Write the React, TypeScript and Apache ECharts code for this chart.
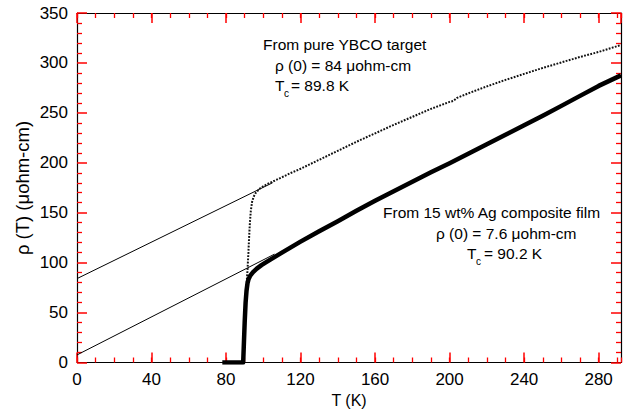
import React, { useEffect, useRef } from "react";
import * as echarts from "echarts";

// Ag composite film (thick curve)
const agT = [78, 84, 88, 89.2, 89.5, 90.0, 90.5, 91.0, 91.5, 92.0, 93.0, 94.5, 96.5, 99, 102, 106, 110, 115, 120, 130, 140, 150, 160, 170, 180, 190, 200, 210, 220, 230, 240, 250, 260, 270, 280, 292];
const agRho = [0, 0, 0, 0, 15, 40, 60, 72, 79, 83, 87, 90.5, 94, 97.5, 101, 105.5, 110, 115.5, 121, 131.5, 141.5, 152, 162, 171.5, 181, 190.5, 199.5, 209, 218.5, 228, 237.5, 247, 257, 267, 277, 287.5];

// Pure YBCO target (dotted curve)
const ybT = [89, 89.5, 90, 90.5, 91, 91.5, 92, 92.4, 92.8, 93.3, 94, 94.8, 96, 98, 100, 103, 106, 110, 115, 120, 130, 140, 150, 160, 170, 180, 190, 200, 202, 204, 210, 220, 230, 240, 250, 260, 270, 280, 292];
const ybRho = [0, 20, 45, 65, 78, 92, 110, 126, 140, 152, 161, 166, 170, 174, 176.5, 179.5, 182, 185.5, 190, 194, 203, 212, 221, 229.5, 238, 246, 254, 261, 262, 265, 269.5, 276.5, 283, 289, 295, 300.5, 306, 311, 318];

// Linear extrapolations to T = 0
const fitYbco = [[0, 84], [105, 180]];
const fitAg = [[0, 7.6], [106, 108.5]];

const xMin = 0;
const xMax = 292;
const xMajor = 40;
const xMinor = 10;
const yMin = 0;
const yMax = 350;
const yMajor = 50;

const FONT = "'Liberation Sans', Arial, Helvetica, sans-serif";
const TICK = "red";

const zip = (a: number[], b: number[]) => a.map((v, i) => [v, b[i]]);

export default function App() {
  const ref = useRef<HTMLDivElement>(null);
  useEffect(() => {
    document.body.style.margin = "0";
    if (!ref.current) return;
    const chart = echarts.init(ref.current, undefined, { renderer: "svg" });
    const txt = (text: string, x: number, y: number, size = 15.5, align = "left", rotation = 0) => ({
      type: "text",
      x,
      y,
      rotation,
      style: { text, fontSize: size, fontFamily: FONT, fill: "#000", verticalAlign: "middle", align },
    });
    chart.setOption({
      animation: false,
      grid: [
        { left: 77, right: 3, top: 13, bottom: 54.5 },
        { left: 77, right: 3, top: 13, bottom: 54.5 },
      ],
      xAxis: [
        {
          gridIndex: 0, type: "value", position: "bottom", min: xMin, max: xMax, interval: xMajor,
          axisLine: { show: true, onZero: false, lineStyle: { color: "#000", width: 1.2 } },
          axisTick: { show: true, inside: true, length: 10, lineStyle: { color: TICK, width: 1.5 } },
          splitLine: { show: false },
          axisLabel: { showMaxLabel: false, fontSize: 17, color: "#000", fontFamily: FONT, margin: 8 },
        },
        {
          gridIndex: 0, type: "value", position: "top", min: xMin, max: xMax, interval: xMajor,
          axisLine: { show: true, onZero: false, lineStyle: { color: "#000", width: 1.2 } },
          axisTick: { show: true, inside: true, length: 10, lineStyle: { color: TICK, width: 1.5 } },
          splitLine: { show: false }, axisLabel: { show: false },
        },
        {
          gridIndex: 1, type: "value", position: "bottom", min: xMin, max: xMax, interval: xMinor,
          axisLine: { show: false },
          axisTick: { show: true, inside: true, length: 5, lineStyle: { color: TICK, width: 1.3 } },
          splitLine: { show: false }, axisLabel: { show: false },
        },
        {
          gridIndex: 1, type: "value", position: "top", min: xMin, max: xMax, interval: xMinor,
          axisLine: { show: false },
          axisTick: { show: true, inside: true, length: 5, lineStyle: { color: TICK, width: 1.3 } },
          splitLine: { show: false }, axisLabel: { show: false },
        },
      ],
      yAxis: [
        {
          gridIndex: 0, type: "value", position: "left", min: yMin, max: yMax, interval: yMajor,
          axisLine: { show: true, onZero: false, lineStyle: { color: "#000", width: 1.2 } },
          axisTick: { show: true, inside: true, length: 10, lineStyle: { color: TICK, width: 1.5 } },
          minorTick: { show: true, splitNumber: 5, length: 5, lineStyle: { color: TICK, width: 1.3 } },
          splitLine: { show: false },
          axisLabel: { fontSize: 17, color: "#000", fontFamily: FONT, margin: 9 },
        },
        {
          gridIndex: 1, type: "value", position: "right", min: yMin, max: yMax, interval: yMajor,
          axisLine: { show: true, onZero: false, lineStyle: { color: "#000", width: 1.2 } },
          axisTick: { show: true, inside: true, length: 10, lineStyle: { color: TICK, width: 1.5 } },
          minorTick: { show: true, splitNumber: 5, length: 5, lineStyle: { color: TICK, width: 1.3 } },
          splitLine: { show: false }, axisLabel: { show: false },
        },
      ],
      series: [
        {
          type: "line", xAxisIndex: 0, yAxisIndex: 0, data: fitYbco, showSymbol: false, symbol: "none",
          lineStyle: { color: "#000", width: 1 }, z: 2,
        },
        {
          type: "line", xAxisIndex: 0, yAxisIndex: 0, data: fitAg, showSymbol: false, symbol: "none",
          lineStyle: { color: "#000", width: 1 }, z: 2,
        },
        {
          type: "line", xAxisIndex: 0, yAxisIndex: 0, data: zip(ybT, ybRho), showSymbol: false, symbol: "none",
          lineStyle: { color: "#111", width: 2, type: [1.8, 1.4] }, z: 3,
        },
        {
          type: "line", xAxisIndex: 0, yAxisIndex: 0, data: zip(agT, agRho), showSymbol: false, symbol: "none",
          lineStyle: { color: "#000", width: 4.5, join: "round" }, z: 4,
        },
      ],
      graphic: [
        txt("T (K)", 349, 400, 16, "center"),
        txt("ρ (T) (μohm-cm)", 22, 188, 18.5, "center", Math.PI / 2),
        txt("From pure YBCO target", 263, 44),
        txt("ρ (0) = 84 μohm-cm", 275, 65),
        txt("T", 275, 85),
        txt("c", 284, 93, 10),
        txt("= 89.8 K", 291, 85),
        txt("From 15 wt% Ag composite film", 383, 212),
        txt("ρ (0) = 7.6 μohm-cm", 436, 233),
        txt("T", 467, 253),
        txt("c", 476, 261, 10),
        txt("= 90.2 K", 484, 253),
      ],
    });
    return () => chart.dispose();
  }, []);
  return <div ref={ref} style={{ width: 624, height: 417 }} />;
}
